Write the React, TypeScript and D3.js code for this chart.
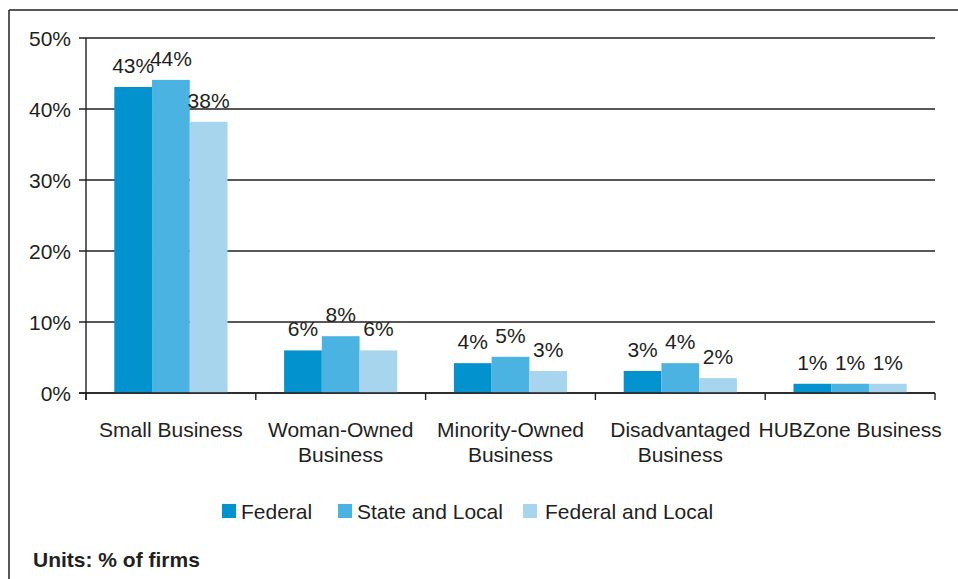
import React from "react";
import * as d3 from "d3";

const categories: string[][] = [
  ["Small Business"],
  ["Woman-Owned", "Business"],
  ["Minority-Owned", "Business"],
  ["Disadvantaged", "Business"],
  ["HUBZone Business"],
];
const seriesNames = ["Federal", "State and Local", "Federal and Local"];
const federal = [43.1, 6.0, 4.2, 3.1, 1.3];
const stateLocal = [44.1, 8.0, 5.1, 4.2, 1.3];
const federalLocal = [38.2, 6.0, 3.1, 2.1, 1.3];
const labelsFederal = ["43%", "6%", "4%", "3%", "1%"];
const labelsStateLocal = ["44%", "8%", "5%", "4%", "1%"];
const labelsFederalLocal = ["38%", "6%", "3%", "2%", "1%"];
const yTicks = [0, 10, 20, 30, 40, 50];
const colors = ["#0293cf", "#4ab3e2", "#a8d5ee"];

const W = 958;
const H = 579;
const left = 86;
const right = 935;
const top = 38;
const bottom = 393;
const font = "'Liberation Sans', Arial, Helvetica, sans-serif";
const ink = "#231f20";
const fs = 21;

export default function App() {
  const series = [federal, stateLocal, federalLocal];
  const labels = [labelsFederal, labelsStateLocal, labelsFederalLocal];
  const idx = categories.map((_, i) => String(i));
  const x0 = d3.scaleBand<string>().domain(idx).range([left, right]).paddingInner(0).paddingOuter(0);
  const bw = x0.bandwidth();
  const groupPad = bw / 6;
  const x1 = d3
    .scaleBand<string>()
    .domain(seriesNames)
    .range([groupPad, bw - groupPad])
    .padding(0);
  const y = d3.scaleLinear().domain([0, 50]).range([bottom, top]);

  const boundaries = idx.map((k) => x0(k) as number).concat([right]);

  const legendItems = [
    { name: seriesNames[0], sx: 222, tx: 241 },
    { name: seriesNames[1], sx: 338, tx: 357 },
    { name: seriesNames[2], sx: 523, tx: 545 },
  ];

  return (
    <svg
      width={W}
      height={H}
      style={{ position: "absolute", left: 0, top: 0, background: "#fff" }}
      fontFamily={font}
    >
      <rect x={0} y={0} width={W} height={H} fill="#fff" />
      {/* frame */}
      <line x1={9} y1={10} x2={W} y2={10} stroke={ink} strokeWidth={1.5} />
      <line x1={9} y1={10} x2={9} y2={H} stroke={ink} strokeWidth={1.5} />

      {/* gridlines and y ticks */}
      {yTicks.map((t) => (
        <g key={t}>
          <line x1={79} x2={right} y1={y(t)} y2={y(t)} stroke={ink} strokeWidth={1.4} />
          <text x={71} y={y(t)} dy="0.36em" textAnchor="end" fontSize={fs} fill={ink}>
            {t}%
          </text>
        </g>
      ))}
      {/* y axis */}
      <line x1={left} x2={left} y1={top} y2={bottom + 7} stroke={ink} strokeWidth={1.4} />
      {/* category ticks */}
      {boundaries.map((b, i) => (
        <line key={i} x1={b} x2={b} y1={bottom} y2={bottom + 7} stroke={ink} strokeWidth={1.4} />
      ))}

      {/* bars */}
      {series.map((vals, s) =>
        vals.map((v, i) => {
          const bx = (x0(String(i)) as number) + (x1(seriesNames[s]) as number);
          return (
            <rect
              key={`${s}-${i}`}
              x={bx}
              y={y(v)}
              width={x1.bandwidth()}
              height={bottom - y(v)}
              fill={colors[s]}
            />
          );
        })
      )}
      <line x1={79} x2={right} y1={bottom} y2={bottom} stroke={ink} strokeWidth={1.4} />

      {/* data labels */}
      {series.map((vals, s) =>
        vals.map((v, i) => {
          const cx = (x0(String(i)) as number) + (x1(seriesNames[s]) as number) + x1.bandwidth() / 2;
          return (
            <text key={`l${s}-${i}`} x={cx} y={y(v) - 14} textAnchor="middle" fontSize={fs} fill={ink}>
              {labels[s][i]}
            </text>
          );
        })
      )}

      {/* category labels */}
      {categories.map((lines, i) => {
        const cx = (x0(String(i)) as number) + bw / 2;
        return (
          <text key={`c${i}`} textAnchor="middle" fontSize={fs} fill={ink}>
            {lines.map((ln, j) => (
              <tspan key={j} x={cx} y={437 + j * 25}>
                {ln}
              </tspan>
            ))}
          </text>
        );
      })}

      {/* legend */}
      {legendItems.map((it, i) => (
        <g key={it.name}>
          <rect x={it.sx} y={504} width={14} height={14} fill={colors[i]} />
          <text x={it.tx} y={519} fontSize={fs} fill={ink}>
            {it.name}
          </text>
        </g>
      ))}

      <text x={33} y={567} fontSize={21} fontWeight="bold" fill={ink}>
        Units: % of firms
      </text>
    </svg>
  );
}
